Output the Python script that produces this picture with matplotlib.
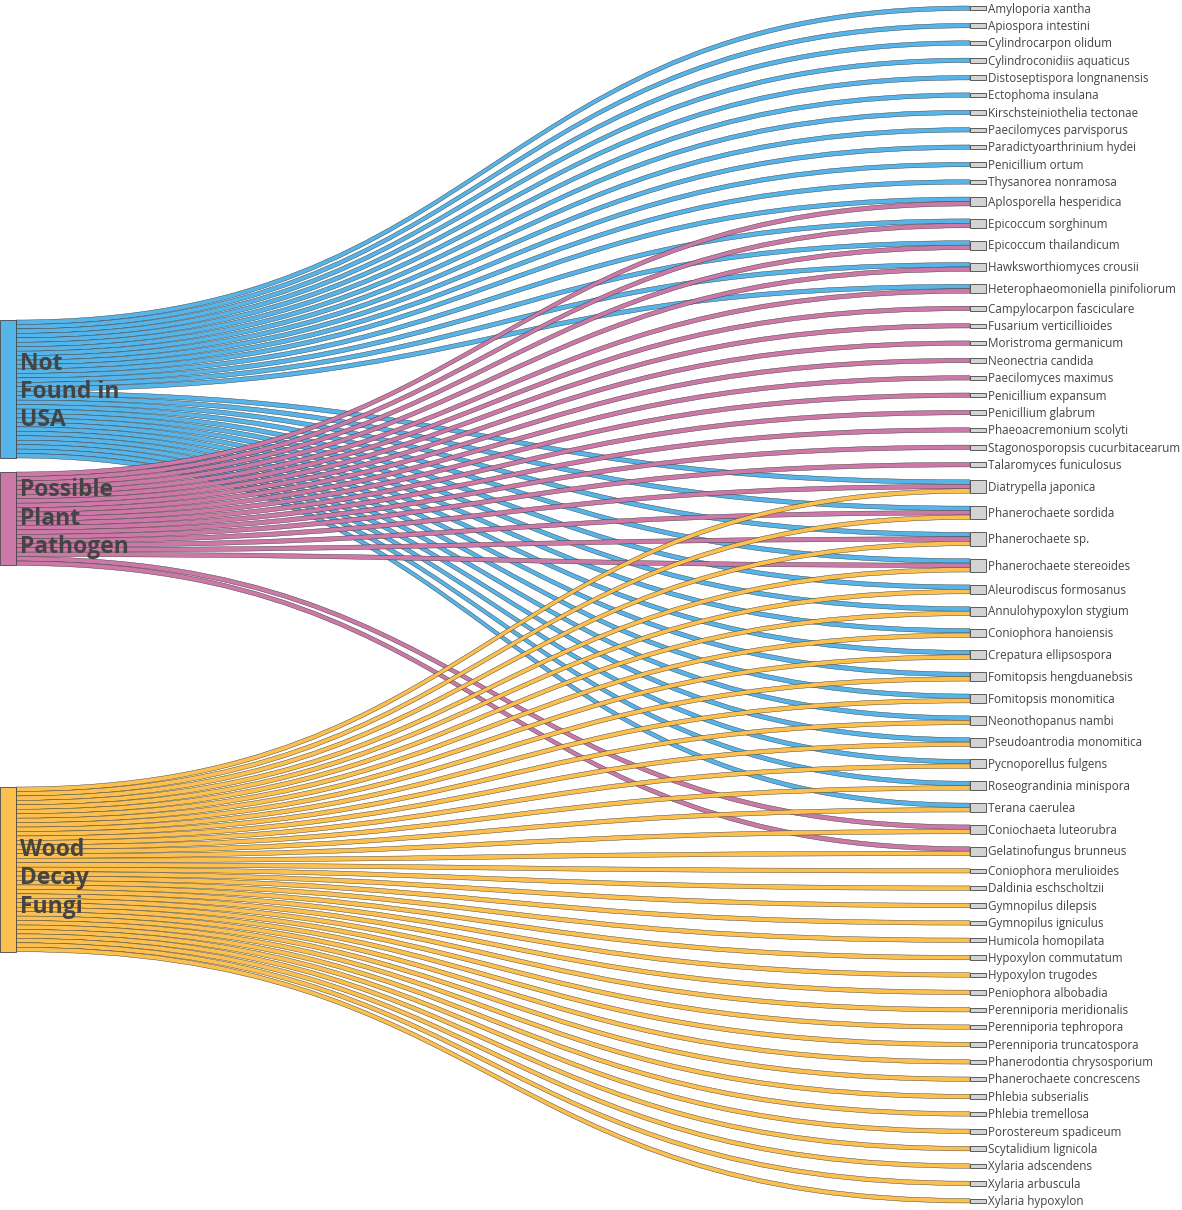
import matplotlib.pyplot as plt
from matplotlib.path import Path
from matplotlib.patches import PathPatch, Rectangle

plt.rcParams['font.family'] = ['Open Sans', 'DejaVu Sans']

# categories (left nodes)
groups = ['Not\nFound in\nUSA', 'Possible\nPlant\nPathogen', 'Wood\nDecay\nFungi']
group_colors = ['#56B4E9', '#CC79A7', '#FBC04F']

# species (right nodes), top to bottom
species = [
    'Amyloporia xantha', 'Apiospora intestini', 'Cylindrocarpon olidum',
    'Cylindroconidiis aquaticus', 'Distoseptispora longnanensis', 'Ectophoma insulana',
    'Kirschsteiniothelia tectonae', 'Paecilomyces parvisporus', 'Paradictyoarthrinium hydei',
    'Penicillium ortum', 'Thysanorea nonramosa', 'Aplosporella hesperidica',
    'Epicoccum sorghinum', 'Epicoccum thailandicum', 'Hawksworthiomyces crousii',
    'Heterophaeomoniella pinifoliorum', 'Campylocarpon fasciculare', 'Fusarium verticillioides',
    'Moristroma germanicum', 'Neonectria candida', 'Paecilomyces maximus',
    'Penicillium expansum', 'Penicillium glabrum', 'Phaeoacremonium scolyti',
    'Stagonosporopsis cucurbitacearum', 'Talaromyces funiculosus', 'Diatrypella japonica',
    'Phanerochaete sordida', 'Phanerochaete sp.', 'Phanerochaete stereoides',
    'Aleurodiscus formosanus', 'Annulohypoxylon stygium', 'Coniophora hanoiensis',
    'Crepatura ellipsospora', 'Fomitopsis hengduanebsis', 'Fomitopsis monomitica',
    'Neonothopanus nambi', 'Pseudoantrodia monomitica', 'Pycnoporellus fulgens',
    'Roseograndinia minispora', 'Terana caerulea', 'Coniochaeta luteorubra',
    'Gelatinofungus brunneus', 'Coniophora merulioides', 'Daldinia eschscholtzii',
    'Gymnopilus dilepsis', 'Gymnopilus igniculus', 'Humicola homopilata',
    'Hypoxylon commutatum', 'Hypoxylon trugodes', 'Peniophora albobadia',
    'Perenniporia meridionalis', 'Perenniporia tephropora', 'Perenniporia truncatospora',
    'Phanerodontia chrysosporium', 'Phanerochaete concrescens', 'Phlebia subserialis',
    'Phlebia tremellosa', 'Porostereum spadiceum', 'Scytalidium lignicola',
    'Xylaria adscendens', 'Xylaria arbuscula', 'Xylaria hypoxylon',
]

# membership: which species each category links to (value 1 each)
not_found = species[0:16] + species[26:41]
plant_pathogen = species[11:16] + species[16:26] + species[26:30] + species[41:43]
wood_decay = species[26:30] + species[30:41] + species[41:43] + species[43:]
members = [not_found, plant_pathogen, wood_decay]

# layout (pixels)
W, H = 1182, 1210
unit = 138 / 31
left_x0, left_x1 = 0, 16
right_x0, right_x1 = 970, 986
left_tops = [320, 472, 787]
label_shift = [3, 0, 9]
right_top, right_bot = 6, 1203

fig = plt.figure(figsize=(W / 100, H / 100), dpi=100)
ax = fig.add_axes([0, 0, 1, 1])
ax.set_xlim(0, W)
ax.set_ylim(H, 0)
ax.axis('off')

# right node sizes / positions
counts = {s: sum(s in m for m in members) for s in species}
total = sum(counts.values())
pad = (right_bot - right_top - total * unit) / (len(species) - 1)
rtop = {}
y = right_top
for s in species:
    rtop[s] = y
    y += counts[s] * unit + pad

# links
in_offset = {s: 0.0 for s in species}
links = []
for g, m in enumerate(members):
    out = left_tops[g]
    for s in sorted(m, key=species.index):
        links.append((g, s, out, rtop[s] + in_offset[s]))
        out += unit
        in_offset[s] += unit

xm = (left_x1 + right_x0) / 2
for g, s, ys, yt in links:
    verts = [(left_x1, ys), (xm, ys), (xm, yt), (right_x0, yt),
             (right_x0, yt + unit), (xm, yt + unit), (xm, ys + unit), (left_x1, ys + unit),
             (left_x1, ys)]
    codes = [Path.MOVETO, Path.CURVE4, Path.CURVE4, Path.CURVE4,
             Path.LINETO, Path.CURVE4, Path.CURVE4, Path.CURVE4, Path.CLOSEPOLY]
    ax.add_patch(PathPatch(Path(verts, codes), facecolor=group_colors[g],
                           edgecolor='#333333', lw=0.3, zorder=1))

# left nodes
for g, name in enumerate(groups):
    h = len(members[g]) * unit
    ax.add_patch(Rectangle((left_x0, left_tops[g]), left_x1 - left_x0, h,
                           facecolor=group_colors[g], edgecolor='#444444', lw=0.6, zorder=2))
    ax.text(20, left_tops[g] + h / 2 + label_shift[g], name, fontsize=16.5, fontweight='bold',
            color='#444444', va='center', ha='left', linespacing=1.24, zorder=3)

# right nodes
for s in species:
    h = counts[s] * unit
    ax.add_patch(Rectangle((right_x0, rtop[s]), right_x1 - right_x0, h,
                           facecolor='#D3D3D3', edgecolor='#444444', lw=0.6, zorder=2))
    ax.text(right_x1 + 2, rtop[s] + h / 2 + 0.8, s, fontsize=8.4, color='#444444',
            va='center', ha='left', zorder=3)

fig.savefig('out.png', dpi=100)
